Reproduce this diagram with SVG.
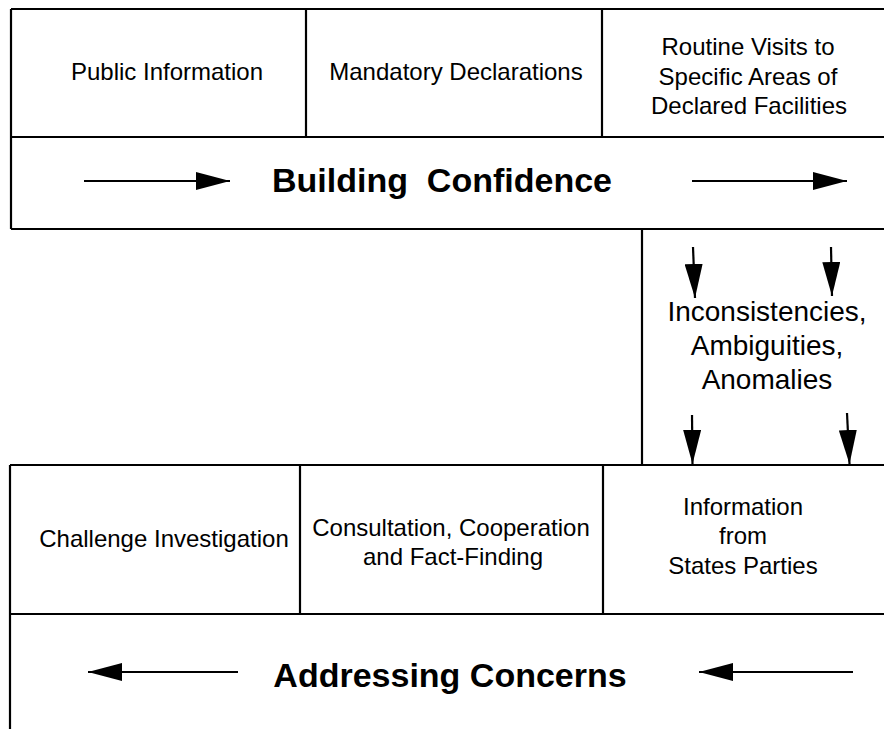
<svg xmlns="http://www.w3.org/2000/svg" width="884" height="729" viewBox="0 0 884 729">
<style>
.ln{stroke:#000;stroke-width:2.2;fill:none}
.t{font-family:"Liberation Sans",Arial,sans-serif;font-size:24px;fill:#000;text-anchor:middle}
.m{font-family:"Liberation Sans",Arial,sans-serif;font-size:28px;fill:#000;text-anchor:middle}
.b{font-family:"Liberation Sans",Arial,sans-serif;font-size:34px;font-weight:bold;fill:#000;text-anchor:middle}
.ar{stroke:#000;stroke-width:2.2;fill:none;marker-end:url(#ah)}
</style>
<defs>
<marker id="ah" viewBox="0 0 34 18" refX="34" refY="9" markerWidth="34" markerHeight="18" markerUnits="userSpaceOnUse" orient="auto">
<path d="M0,0 L34,9 L0,18 z" fill="#000"/>
</marker>
</defs>
<rect width="884" height="729" fill="#fff"/>
<g id="building-confidence">
<path class="ln" d="M11,9 H884 M11,9 V229 M11,137 H884 M11,229 H884"/>
<text class="b" x="442" y="192" xml:space="preserve">Building  Confidence</text>
</g>
<g id="public-information">
<path class="ln" d="M306,8 V138"/>
<text class="t" x="167" y="80">Public Information</text>
</g>
<g id="mandatory-declarations">
<path class="ln" d="M602,8 V138"/>
<text class="t" x="456" y="80">Mandatory Declarations</text>
</g>
<g id="routine-visits">
<text class="t" x="748" y="55">Routine Visits to</text>
<text class="t" x="748" y="85">Specific Areas of</text>
<text class="t" x="749" y="114">Declared Facilities</text>
</g>
<g id="inconsistencies">
<path class="ln" d="M642,229 V465"/>
<text class="m" x="767" y="321">Inconsistencies,</text>
<text class="m" x="767" y="355">Ambiguities,</text>
<text class="m" x="767" y="389">Anomalies</text>
</g>
<g id="addressing-concerns">
<path class="ln" d="M10,465 H884 M10,465 V729 M10,614 H884"/>
<text class="b" x="450" y="687">Addressing Concerns</text>
</g>
<g id="challenge-investigation">
<path class="ln" d="M300,465 V614"/>
<text class="t" x="164" y="547">Challenge Investigation</text>
</g>
<g id="consultation">
<path class="ln" d="M603,465 V614"/>
<text class="t" x="451" y="536">Consultation, Cooperation</text>
<text class="t" x="453" y="565">and Fact-Finding</text>
</g>
<g id="information-states-parties">
<text class="t" x="743" y="515">Information</text>
<text class="t" x="743" y="544">from</text>
<text class="t" x="743" y="574">States Parties</text>
</g>
<g id="connectors">
<line class="ar" x1="84" y1="181" x2="230" y2="181"/>
<line class="ar" x1="692" y1="181" x2="847" y2="181"/>
<line class="ar" x1="693" y1="247" x2="695" y2="298"/>
<line class="ar" x1="831" y1="247" x2="832" y2="296"/>
<line class="ar" x1="692" y1="415" x2="692.5" y2="464"/>
<line class="ar" x1="847" y1="413" x2="849.5" y2="464"/>
<line class="ar" x1="238" y1="672" x2="88" y2="672"/>
<line class="ar" x1="853" y1="672" x2="699" y2="672"/>
</g>
</svg>
